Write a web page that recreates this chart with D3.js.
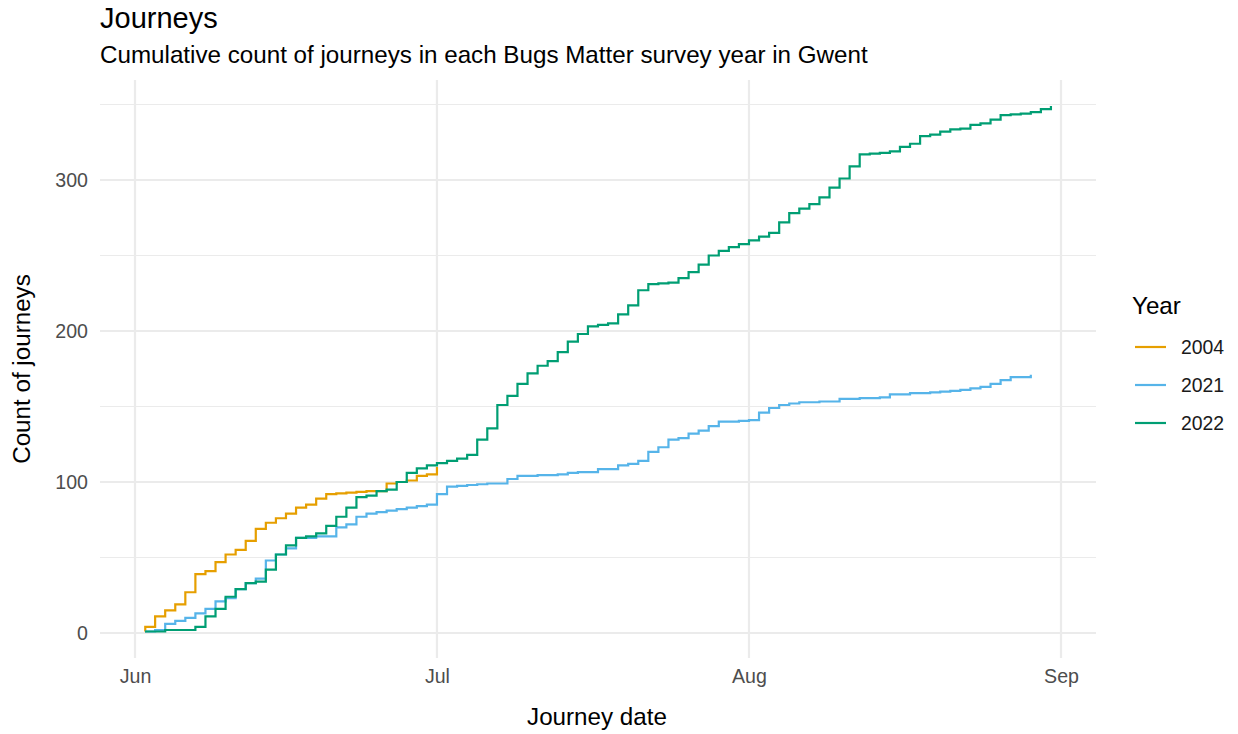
<!DOCTYPE html>
<html><head><meta charset="utf-8">
<script src="https://cdn.jsdelivr.net/npm/d3@7"></script>
<style>
body{margin:0;background:#fff}
text{font-family:"Liberation Sans",Arial,Helvetica,sans-serif}
</style>
</head><body>
<svg id="chart" width="1238" height="734"></svg>
<script>
// ---- data: days since 1 June (same calendar in every year), cumulative count ----
const years = ["2004", "2021", "2022"];
const colors = ["#E69F00", "#56B4E9", "#009E73"];

const days2004   = [1, 1.02, 2, 3, 4, 5, 6, 7, 8, 9, 10, 11, 12, 13, 14, 15, 16, 17, 18, 19, 20, 21, 22, 23, 25, 26, 27, 28, 29, 30];
const counts2004 = [1, 4, 11, 15, 19, 27, 39, 41, 47, 52, 55, 61, 69, 73, 76, 79, 83, 85, 89, 92, 92.5, 93, 93.5, 94, 99, 100, 101, 104, 105, 110];

const days2021   = [1, 2, 3, 4, 5, 6, 7, 8, 9, 10, 11, 12, 13, 14, 15, 16, 18, 20, 21, 22, 23, 24, 25, 26, 27, 28, 29, 30, 31, 32, 33, 34, 35, 37, 38, 40, 42, 43, 44, 46, 48, 49, 50, 51, 52, 53, 54, 55, 56, 57, 58, 60, 61, 62, 63, 64, 65, 66, 68, 70, 72, 74, 75, 77, 79, 80, 81, 82, 83, 84, 85, 86, 87, 89];
const counts2021 = [1, 2, 6, 8, 10, 13, 16, 21, 23, 29, 33, 36, 48, 52, 56, 63, 64, 70, 72, 77, 79, 80, 81, 82, 83, 84, 85, 92, 97, 97.5, 98, 98.5, 99, 102, 104, 104.5, 105, 106, 106.5, 108.5, 111, 112, 114, 120, 123, 128, 129, 132, 134, 137, 140, 140.5, 141, 146, 149, 151, 152, 152.8, 153.3, 155, 155.5, 156, 158, 158.8, 159.3, 159.8, 160.3, 161, 162, 163, 165, 167.5, 169.5, 171];

const days2022   = [1, 3, 6, 7, 8, 9, 10, 11, 12, 13, 14, 15, 16, 17, 18, 19, 20, 21, 22, 23, 24, 25, 26, 27, 28, 29, 30, 31, 32, 33, 34, 35, 36, 37, 38, 39, 40, 41, 42, 43, 44, 45, 46, 47, 48, 49, 50, 51, 52, 53, 54, 55, 56, 57, 58, 59, 60, 61, 62, 63, 64, 65, 66, 67, 68, 69, 70, 71, 72, 73, 74, 75, 76, 77, 78, 79, 80, 81, 82, 83, 84, 85, 86, 87, 88, 89, 90, 91];
const counts2022 = [1, 2, 4, 11, 16, 24, 29, 33, 34, 42, 52, 58, 63, 64, 66, 71, 77, 83, 90, 91, 94, 95, 100, 106, 109, 111, 112.5, 114, 115.5, 118, 128, 135.5, 151, 157, 165, 172, 177, 180, 186, 193, 198, 203, 204, 205, 211, 217, 227, 231, 231.5, 232, 235, 239, 244, 250, 253, 255.5, 257.5, 260, 262.5, 265, 272, 278, 281, 284, 288.5, 295, 301, 309, 317, 317.5, 318, 319, 322, 324, 329, 330, 332, 333.5, 334, 336.5, 337.5, 340, 343, 343.5, 344, 345, 347, 349];

const monthLabels = ["Jun", "Jul", "Aug", "Sep"];
const yMajorTicks = [0, 100, 200, 300];
const yMinorTicks = [50, 150, 250, 350];

const titleText = "Journeys";
const subtitleText = "Cumulative count of journeys in each Bugs Matter survey year in Gwent";
const xTitle = "Journey date";
const yTitle = "Count of journeys";
const legendTitle = "Year";

// ---- build ----
const DAY = 864e5;
const origin = Date.UTC(2022, 5, 1);
const toDate = d => new Date(origin + d * DAY);
const monthDates = [0, 1, 2, 3].map(i => new Date(Date.UTC(2022, 5 + i, 1)));

const series = [
  {year: years[0], color: colors[0], pts: days2004.map((d, i) => ({date: toDate(d), v: counts2004[i]}))},
  {year: years[1], color: colors[1], pts: days2021.map((d, i) => ({date: toDate(d), v: counts2021[i]}))},
  {year: years[2], color: colors[2], pts: days2022.map((d, i) => ({date: toDate(d), v: counts2022[i]}))}
];

const panel = {left: 100, right: 1096, top: 80, bottom: 658};
const svg = d3.select("#chart");

const x = d3.scaleUtc().domain([monthDates[0], monthDates[3]]).range([135, 1061]);
const y = d3.scaleLinear().domain([0, 350]).range([633, 104.5]);

const grid = svg.append("g");
grid.selectAll(".ymin").data(yMinorTicks).join("line")
  .attr("x1", panel.left).attr("x2", panel.right)
  .attr("y1", d => y(d)).attr("y2", d => y(d))
  .attr("stroke", "#ebebeb").attr("stroke-width", 1.1);
grid.selectAll(".ymaj").data(yMajorTicks).join("line")
  .attr("x1", panel.left).attr("x2", panel.right)
  .attr("y1", d => y(d)).attr("y2", d => y(d))
  .attr("stroke", "#ebebeb").attr("stroke-width", 2.2);
grid.selectAll(".xmaj").data(monthDates).join("line")
  .attr("x1", d => x(d)).attr("x2", d => x(d))
  .attr("y1", panel.top).attr("y2", panel.bottom)
  .attr("stroke", "#ebebeb").attr("stroke-width", 2.2);

// axes
const yAxis = d3.axisLeft(y).tickValues(yMajorTicks).tickSize(0).tickPadding(12);
const gy = svg.append("g").attr("transform", `translate(${panel.left},0)`).call(yAxis);
const xAxis = d3.axisBottom(x).tickValues(monthDates).tickSize(0).tickPadding(11)
  .tickFormat((d, i) => monthLabels[i]);
const gx = svg.append("g").attr("transform", `translate(0,${panel.bottom})`).call(xAxis);
[gx, gy].forEach(g => {
  g.select(".domain").remove();
  g.selectAll("text").attr("fill", "#4d4d4d").style("font-size", "19.6px")
    .style("font-family", "'Liberation Sans', Arial, sans-serif");
});

// lines
const line = d3.line().x(d => x(d.date)).y(d => y(d.v)).curve(d3.curveStepAfter);
svg.append("g").selectAll("path").data(series).join("path")
  .attr("d", s => line(s.pts))
  .attr("fill", "none")
  .attr("stroke", s => s.color)
  .attr("stroke-width", 2.2)
  .attr("stroke-linejoin", "miter");

// titles
svg.append("text").attr("x", 100).attr("y", 28).style("font-size", "29px").attr("fill", "#000").text(titleText);
svg.append("text").attr("x", 100).attr("y", 63).style("font-size", "24.2px").attr("fill", "#000").text(subtitleText);
svg.append("text").attr("x", (panel.left + panel.right) / 2 - 1).attr("y", 725)
  .attr("text-anchor", "middle").style("font-size", "24.2px").attr("fill", "#000").text(xTitle);
svg.append("text").attr("transform", `translate(30,${(panel.top + panel.bottom) / 2}) rotate(-90)`)
  .attr("text-anchor", "middle").style("font-size", "24.2px").attr("fill", "#000").text(yTitle);

// legend
const lg = svg.append("g");
lg.append("text").attr("x", 1132).attr("y", 314).style("font-size", "24.2px").attr("fill", "#000").text(legendTitle);
const items = lg.selectAll(".item").data(series).join("g")
  .attr("transform", (s, i) => `translate(0,${347 + i * 38})`);
items.append("line").attr("x1", 1135).attr("x2", 1166).attr("y1", 0).attr("y2", 0)
  .attr("stroke", s => s.color).attr("stroke-width", 2.2);
items.append("text").attr("x", 1181).attr("y", 0).attr("dy", "0.36em")
  .style("font-size", "19.4px").attr("fill", "#1a1a1a").text(s => s.year);
</script>
</body></html>
